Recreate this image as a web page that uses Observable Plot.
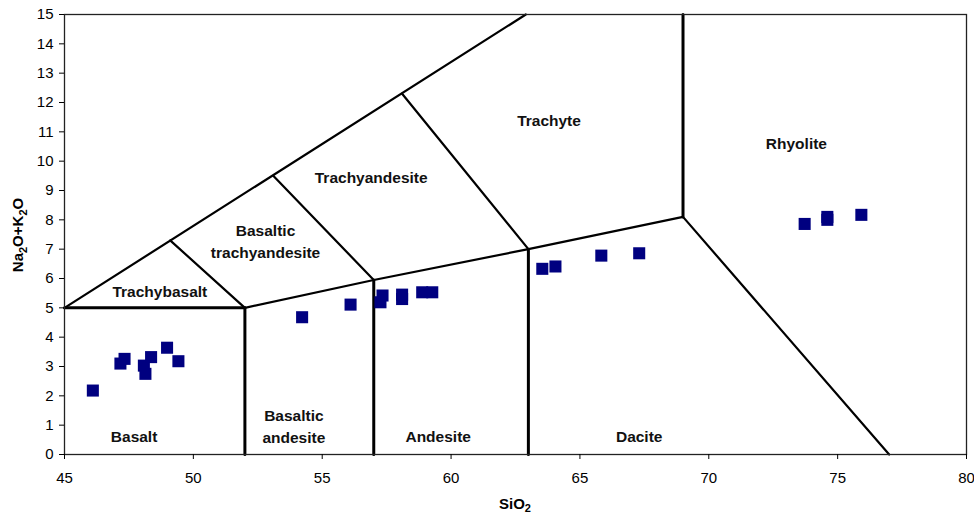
<!DOCTYPE html>
<html><head><meta charset="utf-8">
<script src="https://cdn.jsdelivr.net/npm/d3@7"></script>
<script src="https://cdn.jsdelivr.net/npm/@observablehq/plot@0.6"></script>
<style>body{margin:0;background:#fff;}</style>
</head><body><div id="chart"></div>
<script>
// Sample points (SiO2 vs Na2O+K2O)
const sio2   = [46.1, 47.17, 47.33, 48.08, 48.14, 48.36, 48.98, 49.42, 54.22, 56.1, 57.26, 57.34, 58.1, 58.1, 58.88, 59.27, 63.54, 64.05, 65.83, 67.3, 73.72, 74.6, 74.6, 75.92];
const alkali = [2.18, 3.1, 3.26, 3.03, 2.75, 3.32, 3.64, 3.18, 4.68, 5.11, 5.19, 5.42, 5.3, 5.45, 5.53, 5.53, 6.33, 6.41, 6.78, 6.86, 7.86, 8.0, 8.1, 8.17];

// Field boundary lines (TAS diagram), as [SiO2, alkali] vertices
const alkaliLimit   = [[45, 5], [62.9, 15]];
const basaltTop     = [[45, 5], [52, 5]];
const subalkaliTop  = [[52, 5], [57, 5.95], [63, 7], [69, 8.1]];
const line52        = [[52, 0], [52, 5]];
const line57        = [[57, 0], [57, 5.95]];
const line63        = [[63, 0], [63, 7]];
const line69        = [[69, 8.1], [69, 15]];
const rhyoliteEdge  = [[69, 8.1], [77, 0]];
const trachybasaltR = [[49.1, 7.3], [52, 5]];
const bTrachyandR   = [[53.1, 9.5], [57, 5.95]];
const trachyandR    = [[58.1, 12.3], [63, 7]];

// Field names
const fieldNames = ["Basalt", "Basaltic\nandesite", "Andesite", "Dacite", "Trachybasalt", "Basaltic\ntrachyandesite", "Trachyandesite", "Trachyte", "Rhyolite"];
const fieldX = [47.7, 53.9, 59.5, 67.3, 48.7, 52.8, 56.9, 63.8, 73.4];
const fieldY = [0.68, 1.0, 0.68, 0.68, 5.6, 7.3, 9.5, 11.42, 10.64];

const xTicks = [45, 50, 55, 60, 65, 70, 75, 80];
const yTicks = d3.range(0, 16);

const toRows = (lines) => lines.flatMap((pts, i) => pts.map(([x, y]) => ({x, y, id: i})));
const thin  = toRows([alkaliLimit, subalkaliTop, rhyoliteEdge, trachybasaltR, bTrachyandR, trachyandR]);
const thick = toRows([basaltTop, line52, line57, line63, line69]);
const points = sio2.map((x, i) => ({x, y: alkali[i]}));
const labels = fieldNames.map((t, i) => ({t, x: fieldX[i], y: fieldY[i]}));

const chart = Plot.plot({
  width: 974, height: 517,
  marginLeft: 64, marginRight: 8, marginTop: 14, marginBottom: 63,
  x: {domain: [45, 80]},
  y: {domain: [0, 15]},
  style: {fontFamily: "'Liberation Sans', Arial, sans-serif", fontSize: "15px", color: "black", background: "white"},
  marks: [
    Plot.line(thin,  {x: "x", y: "y", z: "id", stroke: "black", strokeWidth: 2.2}),
    Plot.line(thick, {x: "x", y: "y", z: "id", stroke: "black", strokeWidth: 3}),
    Plot.text(labels, {x: "x", y: "y", text: "t", fontWeight: "bold", fontSize: 15.5, lineHeight: 1.4, fill: "#111", stroke: "white", strokeWidth: 12, paintOrder: "stroke"}),
    Plot.dot(points, {x: "x", y: "y", symbol: "square", r: 6.8, fill: "#000080"}),
    Plot.frame({stroke: "#222", strokeWidth: 1.3}),
    Plot.axisX({ticks: xTicks, tickSize: 5, tickPadding: 13, label: null, fontSize: 15, tickFormat: d => d}),
    Plot.axisY({ticks: yTicks, tickSize: 5, tickPadding: 6, label: null, fontSize: 15, tickFormat: d => d})
  ]
});
document.getElementById("chart").appendChild(chart);

const svg = d3.select(chart);
const yt = svg.append("text")
  .attr("transform", "translate(23,235) rotate(-90)")
  .attr("text-anchor", "middle")
  .attr("font-weight", "bold").attr("font-size", 15).attr("fill", "black");
yt.append("tspan").text("Na");
yt.append("tspan").attr("font-size", 11).attr("dy", 4).text("2");
yt.append("tspan").attr("dy", -4).text("O+K");
yt.append("tspan").attr("font-size", 11).attr("dy", 4).text("2");
yt.append("tspan").attr("dy", -4).text("O");

const xt = svg.append("text")
  .attr("x", 515).attr("y", 509)
  .attr("text-anchor", "middle")
  .attr("font-weight", "bold").attr("font-size", 15).attr("fill", "black");
xt.append("tspan").text("SiO");
xt.append("tspan").attr("font-size", 11).attr("dy", 3).text("2");
</script>
</body></html>
